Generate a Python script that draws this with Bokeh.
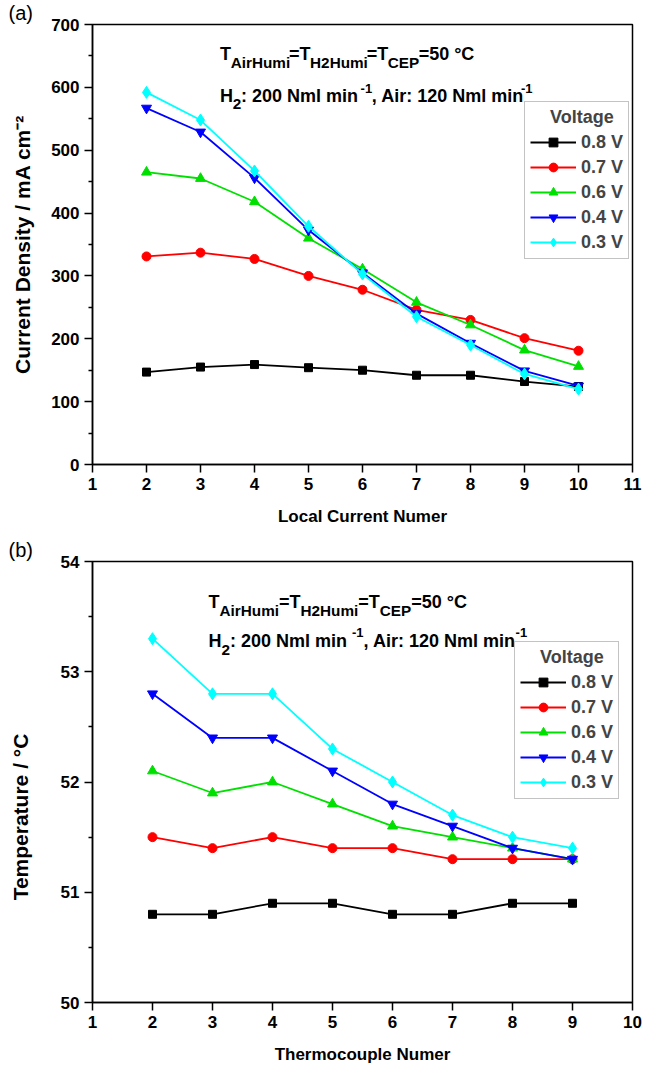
from bokeh.plotting import figure
from bokeh.models import Label, Range1d, FixedTicker, Title
from bokeh.layouts import column
from bokeh.embed import file_html
from bokeh.resources import INLINE

# ---------------- data ----------------
voltages = ["0.8 V", "0.7 V", "0.6 V", "0.4 V", "0.3 V"]

x_current = [2, 3, 4, 5, 6, 7, 8, 9, 10]
cd_08 = [147, 155, 159, 154, 150, 142, 142, 132, 124]
cd_07 = [331, 337, 327, 300, 278, 246, 230, 201, 181]
cd_06 = [465, 455, 418, 360, 311, 258, 222, 182, 156]
cd_04 = [567, 529, 456, 373, 305, 240, 193, 149, 125]
cd_03 = [592, 548, 467, 379, 303, 235, 190, 144, 120]

x_thermo = [2, 3, 4, 5, 6, 7, 8, 9]
t_08 = [50.8, 50.8, 50.9, 50.9, 50.8, 50.8, 50.9, 50.9]
t_07 = [51.5, 51.4, 51.5, 51.4, 51.4, 51.3, 51.3, 51.3]
t_06 = [52.1, 51.9, 52.0, 51.8, 51.6, 51.5, 51.4, 51.3]
t_04 = [52.8, 52.4, 52.4, 52.1, 51.8, 51.6, 51.4, 51.3]
t_03 = [53.3, 52.8, 52.8, 52.3, 52.0, 51.7, 51.5, 51.4]

x_ticks_a = [1, 2, 3, 4, 5, 6, 7, 8, 9, 10, 11]
y_ticks_a = [0, 100, 200, 300, 400, 500, 600, 700]
y_minor_a = [50, 150, 250, 350, 450, 550, 650]
x_ticks_b = [1, 2, 3, 4, 5, 6, 7, 8, 9, 10]
y_ticks_b = [50, 51, 52, 53, 54]
y_minor_b = [50.5, 51.5, 52.5, 53.5]

colors = ["black", "#ff0000", "#00e000", "#0000ff", "#00ffff"]
markers = ["square", "circle", "triangle", "inverted_triangle", "diamond"]
msizes = [8, 9, 10, 10, 12]

FONT = "Liberation Sans"

# Liberation Sans Bold advance widths (per 1000 em), used to chain sub/superscripts
W = {' ': 278, '=': 584, '°': 400, 'C': 722, 'E': 667, 'P': 667, 'T': 611, 'A': 722,
     'H': 722, 'i': 278, 'r': 389, 'u': 611, 'm': 889, '2': 556, '5': 556, '0': 556,
     '1': 556, 'N': 722, 'l': 278, 'n': 611, ':': 333, ',': 278, '-': 333}


def twidth(s, size):
    return sum(W.get(c, 556) for c in s) / 1000.0 * size


def style(p, xt, yt, ym, xlabel, ylabel, ylab_standoff, xtick_standoff, xlab_standoff):
    p.grid.visible = False
    p.outline_line_color = "black"
    p.outline_line_width = 1.5
    p.xaxis.ticker = FixedTicker(ticks=xt, minor_ticks=[])
    p.yaxis.ticker = FixedTicker(ticks=yt, minor_ticks=ym)
    for ax in (p.xaxis[0], p.yaxis[0]):
        ax.axis_line_width = 1.5
        ax.major_tick_line_width = 1.5
        ax.minor_tick_line_width = 1.5
        ax.major_tick_in = 0
        ax.major_tick_out = 8
        ax.minor_tick_in = 0
        ax.minor_tick_out = 4
        ax.major_label_text_font = FONT
        ax.major_label_text_font_style = "bold"
        ax.major_label_text_font_size = "17px"
        ax.major_label_text_color = "black"
        ax.axis_label_text_font = FONT
        ax.axis_label_text_font_style = "bold"
        ax.axis_label_text_color = "black"
    p.xaxis.axis_label_text_font_size = "17px"
    p.yaxis.axis_label_text_font_size = "21px"
    p.xaxis.axis_label = xlabel
    p.yaxis.axis_label = ylabel
    p.yaxis.axis_label_standoff = ylab_standoff
    p.yaxis.major_label_standoff = 5
    p.xaxis.major_label_standoff = xtick_standoff
    p.xaxis.axis_label_standoff = xlab_standoff


class Geo:
    def __init__(self, left, top, fw, fh, xr, yr):
        self.left, self.top, self.fw, self.fh, self.xr, self.yr = left, top, fw, fh, xr, yr

    def x(self, px):
        return self.xr[0] + (px - self.left) / self.fw * (self.xr[1] - self.xr[0])

    def y(self, py):
        return self.yr[1] - (py - self.top) / self.fh * (self.yr[1] - self.yr[0])


def rich_line(p, g, pieces, px0, base_py, size):
    px = px0
    for txt, kind in pieces:
        if kind == "n":
            s, dy = size, 0
        elif kind == "sub":
            s, dy = size * 0.85, 0.5 * size
        else:
            s, dy = size * 0.72, -0.42 * size
        p.add_layout(Label(x=g.x(px), y=g.y(base_py + dy), text=txt, text_font=FONT,
                           text_font_style="bold", text_font_size=f"{s:.1f}px",
                           text_baseline="alphabetic", text_align="left", text_color="black"))
        px += twidth(txt, s)


line1 = [("T", "n"), ("AirHumi", "sub"), ("=T", "n"), ("H2Humi", "sub"), ("=T", "n"),
         ("CEP", "sub"), ("=50 °C", "n")]
line2 = [("H", "n"), ("2", "sub"), (":  200 Nml min", "n"), ("-1", "sup"),
         (", Air: 120 Nml min", "n"), ("-1", "sup")]


def add_series(p, xs, ys_list):
    for ys, lab, c, m, ms in zip(ys_list, voltages, colors, markers, msizes):
        p.line(xs, ys, line_color=c, line_width=1.8, legend_label=lab)
        p.scatter(xs, ys, marker=m, size=ms, fill_color=c, line_color=c, legend_label=lab)


def style_legend(p, loc):
    lg = p.legend[0]
    lg.title = "\u00a0\u00a0\u00a0\u00a0Voltage"
    lg.title_text_font = FONT
    lg.title_text_font_style = "bold"
    lg.title_text_font_size = "18px"
    lg.title_standoff = 3
    lg.label_text_font = FONT
    lg.label_text_font_style = "bold"
    lg.label_text_font_size = "18px"
    lg.glyph_width = 46
    lg.glyph_height = 22
    lg.label_height = 22
    lg.label_standoff = 5
    lg.spacing = 3
    lg.padding = 5
    lg.margin = 0
    lg.border_line_color = "#888888"
    lg.border_line_width = 1
    lg.location = loc


def panel_tag(p, text, offset):
    p.add_layout(Title(text=text, align="left", offset=offset, text_font=FONT,
                       text_font_size="20px", text_font_style="normal",
                       vertical_align="middle", text_line_height=0.3, standoff=0,
                       text_color="black"), "above")


# ---------------- (a) ----------------
LA, RA, TA, BA = 91, 9, 18, 67
WA, HA = 651, 531
ga = Geo(LA, TA, WA - LA - RA, HA - TA - BA, (1, 11), (0, 700))
pa = figure(width=WA, height=HA, x_range=Range1d(1, 11), y_range=Range1d(0, 700),
            output_backend="svg", toolbar_location=None, title=None,
            min_border_left=LA, min_border_right=RA, min_border_top=TA, min_border_bottom=BA)
add_series(pa, x_current, [cd_08, cd_07, cd_06, cd_04, cd_03])
style(pa, x_ticks_a, y_ticks_a, y_minor_a, "Local Current Numer",
      "Current Density / mA cm\u207b\u00b2", 14, 5, 14)
style_legend(pa, (523 - LA, (TA + ga.fh) - 259))
panel_tag(pa, "(a)", 7 - LA)
rich_line(pa, ga, line1, 221, 48, 18)
rich_line(pa, ga, line2, 221, 90, 18)

# ---------------- (b) ----------------
Y0 = HA
LB, RB, TB, BB = 92, 19, 30, 66
WB, HB = 651, 537
gb = Geo(LB, Y0 + TB, WB - LB - RB, HB - TB - BB, (1, 10), (50, 54))
pb = figure(width=WB, height=HB, x_range=Range1d(1, 10), y_range=Range1d(50, 54),
            output_backend="svg", toolbar_location=None, title=None,
            min_border_left=LB, min_border_right=RB, min_border_top=TB, min_border_bottom=BB)
add_series(pb, x_thermo, [t_08, t_07, t_06, t_04, t_03])
# trailing no-break spaces push the (centred) vertical label towards the lower part of the axis
style(pb, x_ticks_b, y_ticks_b, y_minor_b, "Thermocouple Numer",
      "Temperature / \u00b0C" + "\u00a0" * 12, 26, 5, 14)
style_legend(pb, (514 - LB, (Y0 + TB + gb.fh) - 799))
panel_tag(pb, "(b)", 8 - LB)
rich_line(pb, gb, line1, 208, 601, 18)
rich_line(pb, gb, line2, 208, 640, 18)

layout = column(pa, pb, spacing=0)
open("out.html", "w").write(file_html(layout, INLINE))
